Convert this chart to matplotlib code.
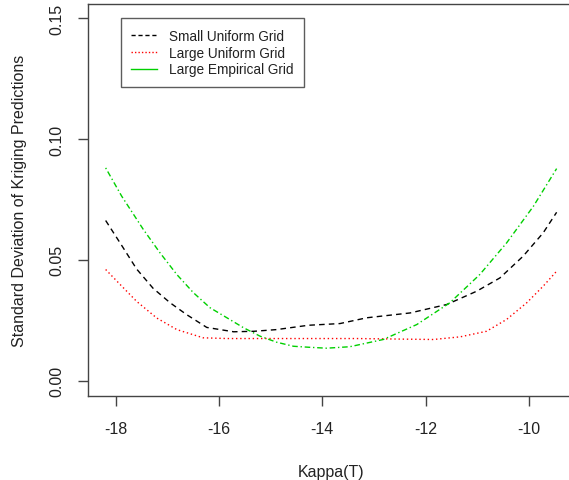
import matplotlib
matplotlib.use("Agg")
import matplotlib.pyplot as plt
from matplotlib.lines import Line2D

plt.rcParams["font.family"] = ["Liberation Sans", "DejaVu Sans"]

# values
kappa_small = [-18.20, -17.89, -17.60, -17.28, -16.95, -16.63, -16.24, -15.72, -15.33,
               -14.89, -14.27, -13.66, -13.14, -12.30, -11.59, -11.01, -10.56, -10.11,
               -9.72, -9.46]
sd_small = [0.0663, 0.0560, 0.0462, 0.0382, 0.0322, 0.0273, 0.0220, 0.0202, 0.0204,
            0.0211, 0.0229, 0.0236, 0.0260, 0.0280, 0.0315, 0.0370, 0.0425, 0.0515,
            0.0612, 0.0697]

kappa_large = [-18.20, -17.92, -17.60, -17.21, -16.82, -16.31, -15.85, -14.27, -13.34,
               -11.85, -11.33, -10.82, -10.43, -10.04, -9.72, -9.46]
sd_large = [0.0460, 0.0398, 0.0328, 0.0259, 0.0211, 0.0177, 0.0174, 0.0174, 0.0174,
            0.0170, 0.0181, 0.0204, 0.0253, 0.0322, 0.0391, 0.0453]

kappa_emp = [-18.20, -17.89, -17.47, -17.15, -16.82, -16.50, -16.18, -15.85, -15.53,
             -15.21, -14.89, -14.56, -14.27, -13.92, -13.47, -12.82, -12.17, -11.53,
             -10.95, -10.43, -9.91, -9.46]
sd_emp = [0.0881, 0.0764, 0.0626, 0.0530, 0.0439, 0.0364, 0.0302, 0.0260, 0.0219,
          0.0184, 0.0159, 0.0142, 0.0138, 0.0134, 0.0140, 0.0170, 0.0232, 0.0322,
          0.0439, 0.0570, 0.0722, 0.0878]

series_labels = ["Small Uniform Grid", "Large Uniform Grid", "Large Empirical Grid"]
x_ticks = [-18, -16, -14, -12, -10]
y_ticks = [0.00, 0.05, 0.10, 0.15]

W, H = 569, 481
fig = plt.figure(figsize=(W / 100, H / 100), dpi=100)
# axes box in pixels: left 87.6, right 575.2 (off canvas), top 5, bottom 396.5
ax = fig.add_axes([87.6 / W, (H - 396.5) / H, 487.6 / W, 391.5 / H])
ax.set_xlim(-18.55, -9.1)
ax.set_ylim(-0.0062, 0.156)

green = "#00d000"
ax.plot(kappa_small, sd_small, color="black", lw=1.0, ls=(0, (4, 3)))
ax.plot(kappa_large, sd_large, color="red", lw=1.0, ls=(0, (1, 2)))
ax.plot(kappa_emp, sd_emp, color=green, lw=1.0, ls=(0, (1, 2, 4, 2)))

for side in ["left", "bottom", "top", "right"]:
    ax.spines[side].set_color("#444444")
    ax.spines[side].set_linewidth(1.0)

ax.set_xticks(x_ticks)
ax.set_xticklabels([str(t) for t in x_ticks])
ax.set_yticks(y_ticks)
ax.set_yticklabels(["%.2f" % t for t in y_ticks], rotation=90, va="center")
ax.tick_params(axis="both", direction="out", length=7, width=1.0,
               color="#444444", labelsize=11.5, labelcolor="#222222")
ax.tick_params(axis="x", pad=11.5)
ax.tick_params(axis="y", pad=9.5)

ax.set_xlabel("Kappa(T)", fontsize=11.5, color="#222222", labelpad=20)
ax.set_ylabel("Standard Deviation of Kriging Predictions", fontsize=11.5,
              color="#222222", labelpad=16)

handles = [
    Line2D([], [], color="black", lw=1.0, ls=(0, (3, 2))),
    Line2D([], [], color="red", lw=1.0, ls=(0, (1, 1.5))),
    Line2D([], [], color=green, lw=1.0, ls="-"),
]
leg = ax.legend(handles, series_labels, loc="upper left",
                bbox_to_anchor=(120.7 / W, 1 - 19.3 / H),
                bbox_transform=fig.transFigure, borderaxespad=0,
                fancybox=False, frameon=True, fontsize=9.8,
                handlelength=1.9, handletextpad=0.9, labelspacing=0.22,
                borderpad=0.75)
leg.get_frame().set_edgecolor("#333333")
leg.get_frame().set_linewidth(1.0)
for t in leg.get_texts():
    t.set_color("#222222")

fig.savefig("out.png", dpi=100)
